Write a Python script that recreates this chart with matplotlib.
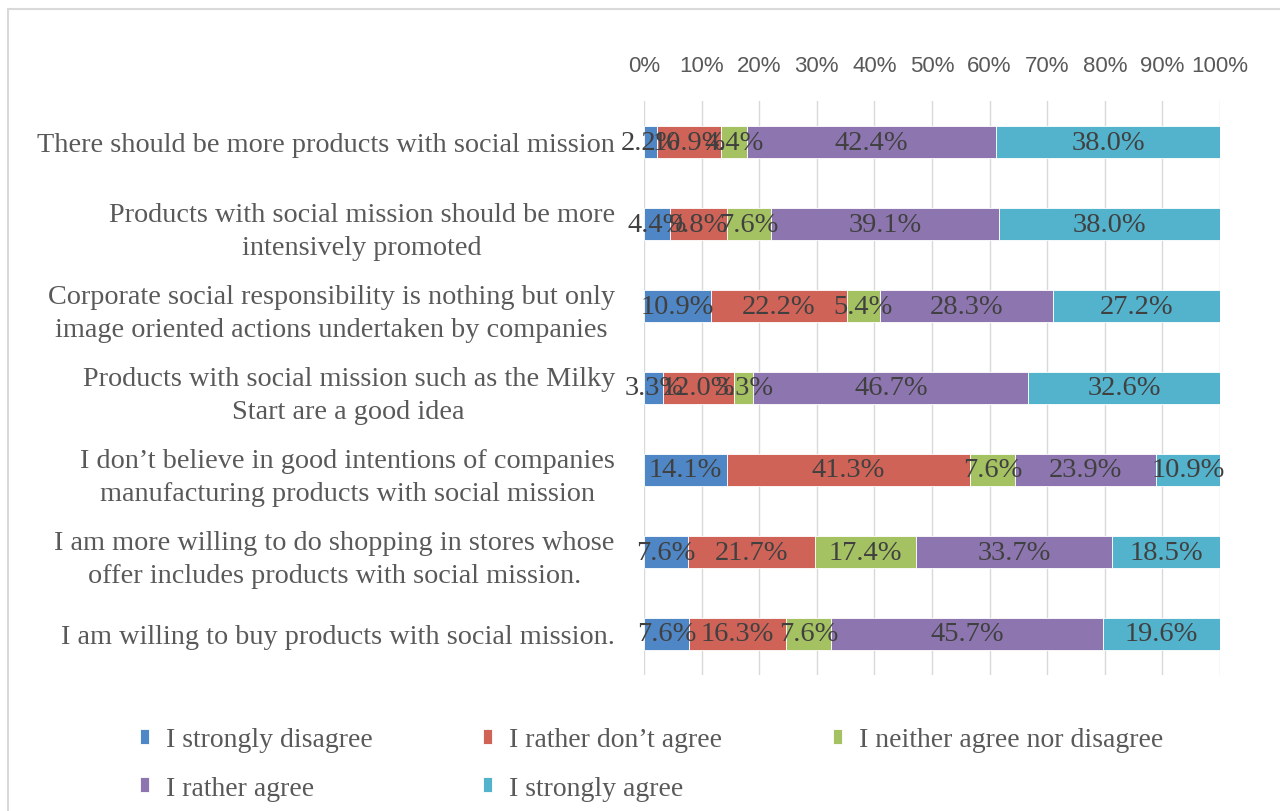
import matplotlib.pyplot as plt
import matplotlib.patches as mpatches
from matplotlib import font_manager
import numpy as np

# --- Survey answers (share of respondents, %) ---
statements = [
    "There should be more products with social mission",
    "Products with social mission should be more\nintensively promoted",
    "Corporate social responsibility is nothing but only\nimage oriented actions undertaken by companies",
    "Products with social mission such as the Milky\nStart are a good idea",
    "I don\u2019t believe in good intentions of companies\nmanufacturing products with social mission",
    "I am more willing to do shopping in stores whose\noffer includes products with social mission.",
    "I am willing to buy products with social mission.",
]
answers = [
    "I strongly disagree",
    "I rather don\u2019t agree",
    "I neither agree nor disagree",
    "I rather agree",
    "I strongly agree",
]
strongly_disagree = [2.2, 4.4, 10.9, 3.3, 14.1, 7.6, 7.6]
rather_disagree = [10.9, 9.8, 22.2, 12.0, 41.3, 21.7, 16.3]
neutral = [4.4, 7.6, 5.4, 3.3, 7.6, 17.4, 7.6]
rather_agree = [42.4, 39.1, 28.3, 46.7, 23.9, 33.7, 45.7]
strongly_agree = [38.0, 38.0, 27.2, 32.6, 10.9, 18.5, 19.6]
tick_labels = ["0%", "10%", "20%", "30%", "40%", "50%", "60%", "70%", "80%", "90%", "100%"]

colors = ["#4F86C6", "#CF6357", "#A5C263", "#8D76B0", "#53B2CC"]
series = [strongly_disagree, rather_disagree, neutral, rather_agree, strongly_agree]

# rows don't add up to exactly 100, so scale each one to its total (100% stacked)
values = np.array(series, dtype=float)
totals = values.sum(axis=0)
shares = values / totals * 100


def pick_font(*names):
    for n in names:
        try:
            font_manager.findfont(n, fallback_to_default=False)
            return n
        except Exception:
            pass
    return "DejaVu Sans"


serif = pick_font("Liberation Serif", "DejaVu Serif")
sans = pick_font("Liberation Sans Narrow", "Liberation Sans")

fig = plt.figure(figsize=(12.8, 8.12), dpi=100)
ax = fig.add_axes([644 / 1280, 1 - 676 / 812, 576 / 1280, 574 / 812])

label_color = "#595959"
y = np.arange(len(statements))
left = np.zeros(len(statements))
handles = []
for i, name in enumerate(answers):
    bars = ax.barh(y, shares[i], left=left, height=0.4, color=colors[i],
                   edgecolor="white", linewidth=0.6, label=name, zorder=3)
    handles.append(bars)
    for j in range(len(statements)):
        ax.text(left[j] + shares[i][j] / 2, y[j], f"{values[i][j]:.1f}%",
                ha="center", va="center", fontsize=20.5, family=serif,
                color="#404040", zorder=4)
    left += shares[i]

ax.set_xlim(0, 100)
ax.set_ylim(len(statements) - 0.5, -0.5)
ax.set_xticks(np.arange(0, 101, 10))
ax.set_xticklabels(tick_labels, fontsize=16, color=label_color, family=sans)
ax.xaxis.tick_top()
ax.tick_params(axis="x", length=0, pad=18)
ax.set_yticks(y)
ax.set_yticklabels(statements, fontsize=20.3, family=serif, color=label_color,
                   multialignment="center", linespacing=1.4)
ax.tick_params(axis="y", length=0, pad=21)
ax.grid(axis="x", color="#d9d9d9", linewidth=1, zorder=0)
for s in ax.spines.values():
    s.set_visible(False)

# legend: three per row, Excel style
order = [0, 3, 1, 4, 2]
leg = fig.legend([handles[k] for k in order], [answers[k] for k in order],
                 loc="upper left", bbox_to_anchor=(140 / 1280, 1 - 728 / 812),
                 ncol=3, frameon=False, handlelength=0.32, handleheight=0.45,
                 handletextpad=0.6, columnspacing=4.0, labelspacing=0.85,
                 borderpad=0, borderaxespad=0, prop={"family": serif, "size": 20})
for t in leg.get_texts():
    t.set_color(label_color)

# chart area frame
fig.patches.append(mpatches.Rectangle((8 / 1280, -0.01), 1.02, 1 - 10 / 812 + 0.01,
                                      transform=fig.transFigure, fill=False,
                                      edgecolor="#d9d9d9", linewidth=1.5))

fig.savefig("out.png", dpi=100)
